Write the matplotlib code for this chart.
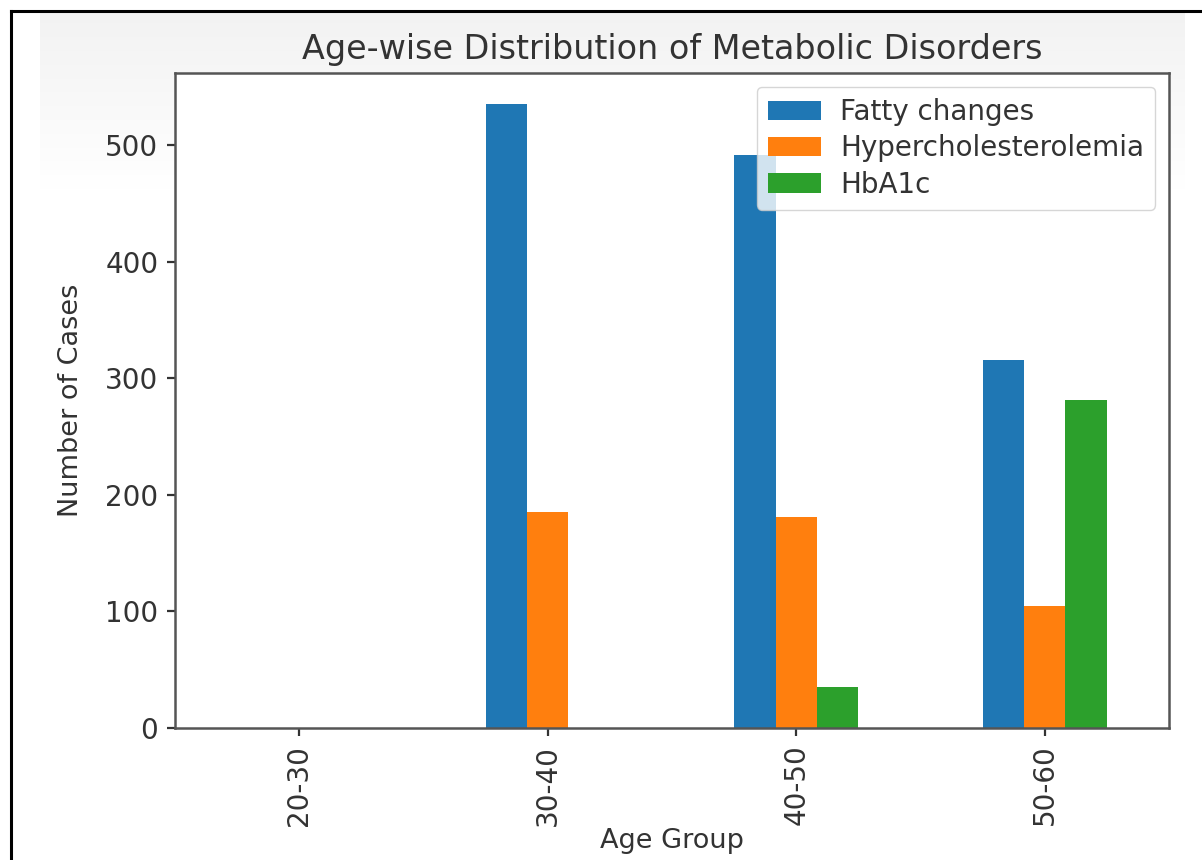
#!/usr/bin/env python

# Grouped bar chart: age-wise distribution of metabolic disorders

import numpy
import matplotlib
matplotlib.use('Agg')
import matplotlib.pyplot as plt
from matplotlib.lines import Line2D

# Data
age_groups = ['20-30', '30-40', '40-50', '50-60']
fatty_changes = [0, 535, 491, 316]
hypercholesterolemia = [0, 185, 181, 105]
hba1c = [0, 0, 35, 281]

series_names = ['Fatty changes', 'Hypercholesterolemia', 'HbA1c']
series_values = [fatty_changes, hypercholesterolemia, hba1c]
series_colours = ['#1f77b4', '#ff7f0e', '#2ca02c']

text_col = '#333333'
spine_col = '#555555'

W, H = 1202.0, 860.0
fig = plt.figure(figsize=(W / 100, H / 100), dpi=100, facecolor='white')

# faint grey band at the top of the screenshot
bg = fig.add_axes([40 / W, 1 - 190 / H, 1145 / W, 178 / H], zorder=-5)
grad = numpy.linspace(0.95, 1.0, 64).reshape(-1, 1)
bg.imshow(numpy.dstack([grad, grad, grad]), aspect='auto',
          extent=[0, 1, 0, 1], origin='upper')
bg.set_axis_off()

ax = fig.add_axes([175 / W, 1 - 728 / H, 994 / W, 655 / H])

# pandas-style grouped bars: total group width 0.5
x = numpy.arange(len(age_groups))
width = 0.5 / len(series_values)
for i, (name, vals, col) in enumerate(zip(series_names, series_values,
                                          series_colours)):
    offset = (i - (len(series_values) - 1) / 2.0) * width
    ax.bar(x + offset, vals, width, color=col, label=name)

ax.set_xlim(-0.5, len(age_groups) - 0.5)
ax.set_ylim(0, max(fatty_changes) * 1.05)
ax.set_yticks([0, 100, 200, 300, 400, 500])
ax.set_xticks(x)
ax.set_xticklabels(age_groups, rotation=90)

ax.tick_params(axis='both', labelsize=20, colors=text_col,
               length=6, width=1.6, pad=6)
for sp in ax.spines.values():
    sp.set_color(spine_col)
    sp.set_linewidth(1.8)

ax.set_title('Age-wise Distribution of Metabolic Disorders',
             fontsize=24, color=text_col, pad=10)
ax.set_xlabel('Age Group', fontsize=19.5, color=text_col, labelpad=2)
ax.set_ylabel('Number of Cases', fontsize=19.5, color=text_col, labelpad=15)

leg = ax.legend(loc='upper right', fontsize=20, frameon=True,
                handlelength=1.9, borderpad=0.4, labelspacing=0.3,
                handletextpad=0.7)
for t in leg.get_texts():
    t.set_color(text_col)
leg.get_frame().set_edgecolor('#cccccc')

# Black screenshot border along top and left edges
fig.add_artist(Line2D([11 / W, 1.0], [1 - 11 / H, 1 - 11 / H],
                      transform=fig.transFigure, color='black', lw=2.2))
fig.add_artist(Line2D([11 / W, 11 / W], [0.0, 1 - 11 / H],
                      transform=fig.transFigure, color='black', lw=2.2))

fig.savefig('out.png', dpi=100, facecolor='white')
